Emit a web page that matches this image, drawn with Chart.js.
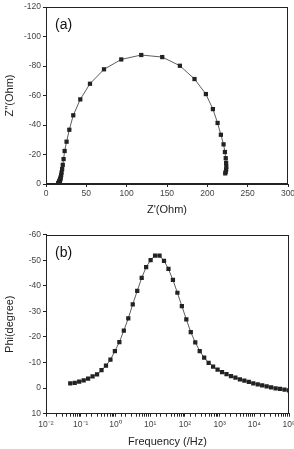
<!DOCTYPE html>
<html><head><meta charset="utf-8">
<script src="https://cdn.jsdelivr.net/npm/chart.js@4/dist/chart.umd.min.js"></script>
<style>
html,body{margin:0;padding:0;background:#fff;}
#wa{position:absolute;left:0;top:0;width:294px;height:220px;}
#wb{position:absolute;left:0;top:220px;width:294px;height:229px;}
</style></head><body>
<div id="wa"><canvas id="ca"></canvas></div>
<div id="wb"><canvas id="cb"></canvas></div>
<script>
// Frequencies (Hz), ascending
const freq = [0.05,0.0673,0.0904,0.1216,0.1634,0.2197,0.2955,0.3973,0.5342,0.7182,
  0.9656,1.298,1.746,2.347,3.156,4.244,5.706,7.672,10.32,13.87,
  18.65,25.08,33.72,45.34,60.96,81.96,110.2,148.2,199.3,267.9,
  360.3,484.4,651.3,875.8,1178,1583,2129,2863,3849,5176,
  6959,9357,12580,16916,22745,30582,41120,55290,74343,100000];
// Phase (degree)
const phase = [-1.9,-2.1,-2.5,-3.0,-3.7,-4.6,-5.4,-7.0,-8.8,-11.1,
  -14.5,-18.0,-22.5,-27.3,-32.8,-38.0,-43.1,-47.3,-50.1,-51.8,
  -51.8,-49.8,-46.6,-42.3,-37.3,-32.1,-26.9,-21.9,-17.9,-14.5,
  -11.9,-9.9,-8.4,-7.2,-6.3,-5.5,-4.7,-4.1,-3.4,-2.9,
  -2.4,-1.9,-1.5,-1.1,-0.7,-0.3,0.1,0.3,0.6,0.9];
// Z' (Ohm)
const zReal = [222.2,222.8,223.3,223.5,223.3,222.8,221.8,220.1,216.8,212.7,
  206.9,198.2,184.1,166.0,144.1,118.1,93.3,71.9,54.5,42.5,
  33.8,28.9,25.5,23.1,21.8,20.8,20.0,19.3,18.8,18.3,
  17.9,17.6,17.3,17.1,16.9,16.7,16.5,16.3,16.2,16.0,
  15.9,15.8,15.7,15.6,15.5,15.4,15.3,15.2,15.1,15.0];
// Z'' (Ohm)
const zImag = [-7.2,-8.2,-9.7,-11.6,-14.3,-17.5,-21.7,-26.9,-33.4,-41.4,
  -50.8,-61.0,-71.2,-80.2,-86.1,-87.5,-84.5,-77.8,-68.0,-57.4,
  -46.6,-36.8,-28.7,-22.4,-16.9,-13.0,-10.1,-7.8,-6.1,-4.7,
  -3.8,-3.1,-2.6,-2.2,-1.9,-1.6,-1.4,-1.2,-1.0,-0.8,
  -0.7,-0.5,-0.4,-0.3,-0.2,-0.1,0.0,0.0,0.0,0.0];
const superDigits = {'-':'\u207B','0':'\u2070','1':'\u00B9','2':'\u00B2','3':'\u00B3','4':'\u2074','5':'\u2075','6':'\u2076','7':'\u2077','8':'\u2078','9':'\u2079'};
const sup = s => String(s).split('').map(c=>superDigits[c]).join('');

const FONT = '"Liberation Sans", Arial, sans-serif';
Chart.defaults.font.family = FONT;
Chart.defaults.color = '#333';

const frame = {
  id:'frame',
  afterDraw(chart, args, opts){
    const {ctx, chartArea:a} = chart;
    ctx.save();
    ctx.strokeStyle = '#222'; ctx.lineWidth = 1;
    ctx.strokeRect(Math.round(a.left)+0.5, Math.round(a.top)+0.5, Math.round(a.right-a.left)-1, Math.round(a.bottom-a.top)-1);
    ctx.fillStyle = '#111';
    ctx.font = '14px ' + FONT;
    ctx.textBaseline = 'alphabetic';
    ctx.fillText(opts.label, a.left + 9, a.top + 22);
    ctx.restore();
  }
};

function axisCommon(){
  return {
    border:{display:true,color:'#222',width:1},
    grid:{drawOnChartArea:false,drawTicks:true,tickLength:3,color:'#222',tickColor:'#222'},
  };
}
const tickFont = {size:8.5, family:FONT};
const titleFont = {size:11, family:FONT};

new Chart(document.getElementById('ca'), {
  type:'scatter',
  data:{datasets:[{
    data: zReal.map((x,i)=>({x:x, y:zImag[i]})),
    showLine:true, borderColor:'#333', borderWidth:0.8,
    pointStyle:'rect', pointRadius:3, pointHoverRadius:3,
    pointBackgroundColor:'#222', pointBorderColor:'#222', pointBorderWidth:0
  }]},
  options:{
    responsive:true, maintainAspectRatio:false, animation:false,
    layout:{padding:{top:7,right:0,left:0,bottom:0}},
    plugins:{legend:{display:false},tooltip:{enabled:false},frame:{label:'(a)'}},
    scales:{
      x:Object.assign(axisCommon(),{
        type:'linear', min:0, max:300,
        ticks:{stepSize:50, font:tickFont, color:'#444', padding:2, maxRotation:0},
        title:{display:true, text:"Z'(Ohm)", font:titleFont, color:'#222', padding:{top:0,bottom:3}},
        afterFit(s){ s.height = 36; s.paddingRight = 6; }
      }),
      y:Object.assign(axisCommon(),{
        type:'linear', min:-120, max:0, reverse:true,
        ticks:{stepSize:20, font:tickFont, color:'#444', padding:2},
        title:{display:true, text:"Z''(Ohm)", font:titleFont, color:'#222', padding:{top:3,bottom:0}},
        afterFit(s){ s.width = 46; }
      })
    }
  },
  plugins:[frame]
});

new Chart(document.getElementById('cb'), {
  type:'scatter',
  data:{datasets:[{
    data: freq.map((f,i)=>({x:f, y:phase[i]})),
    showLine:true, borderColor:'#333', borderWidth:0.8,
    pointStyle:'rect', pointRadius:3, pointHoverRadius:3,
    pointBackgroundColor:'#222', pointBorderColor:'#222', pointBorderWidth:0
  }]},
  options:{
    responsive:true, maintainAspectRatio:false, animation:false,
    layout:{padding:{top:14.7,right:0,left:0,bottom:0}},
    plugins:{legend:{display:false},tooltip:{enabled:false},frame:{label:'(b)'}},
    scales:{
      x:Object.assign(axisCommon(),{
        type:'logarithmic', min:0.01, max:100000,
        ticks:{autoSkip:false, font:tickFont, color:'#444', padding:3, maxRotation:0,
          callback(v){ const e = Math.log10(v); return Math.abs(e-Math.round(e))<1e-9 ? '10'+sup(Math.round(e)) : ''; }},
        title:{display:true, text:'Frequency (/Hz)', font:titleFont, color:'#222', padding:{top:0,bottom:0}},
        afterFit(s){ s.height = 35.3; s.paddingRight = 5; }
      }),
      y:Object.assign(axisCommon(),{
        type:'linear', min:-60, max:10, reverse:true,
        ticks:{stepSize:10, font:tickFont, color:'#444', padding:2},
        title:{display:true, text:'Phi(degree)', font:titleFont, color:'#222', padding:{top:3,bottom:0}},
        afterFit(s){ s.width = 46; }
      })
    }
  },
  plugins:[frame]
});
</script>
</body></html>
